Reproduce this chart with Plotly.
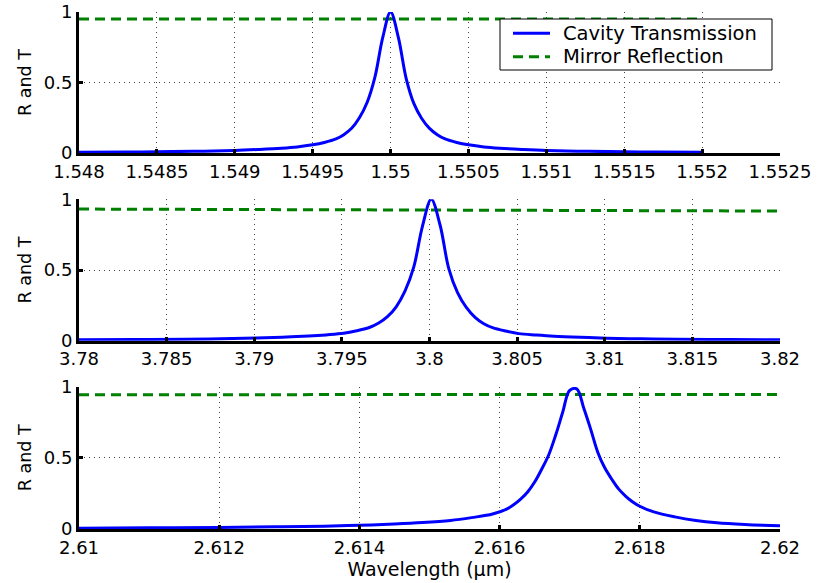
import plotly.graph_objects as go

# ---- Resonance near 1.55 um ----
wl_1 = [1.548, 1.5483, 1.5486, 1.5488, 1.549, 1.54915, 1.5493, 1.5494, 1.5495,
        1.549575, 1.54965, 1.5497, 1.54975, 1.5498, 1.54985, 1.5499, 1.54995,
        1.55,
        1.55005, 1.5501, 1.55015, 1.5502, 1.55025, 1.5503, 1.55035, 1.550425,
        1.5505, 1.5506, 1.5507, 1.55085, 1.551, 1.5512, 1.5514, 1.5517, 1.552]
t_1 = [0.005, 0.007, 0.010, 0.013, 0.018, 0.025, 0.034, 0.043, 0.058,
       0.075, 0.10, 0.13, 0.175, 0.25, 0.36, 0.54, 0.82,
       1.0,
       0.82, 0.53, 0.35, 0.245, 0.175, 0.13, 0.10, 0.075,
       0.058, 0.043, 0.034, 0.025, 0.018, 0.013, 0.010, 0.007, 0.005]
r_wl_1 = [1.548, 1.550, 1.552]
r_1 = [0.951, 0.950, 0.950]
xtick_1 = [1.548, 1.5485, 1.549, 1.5495, 1.55, 1.5505, 1.551, 1.5515, 1.552, 1.5525]
xlab_1 = ["1.548", "1.5485", "1.549", "1.5495", "1.55", "1.5505", "1.551",
          "1.5515", "1.552", "1.5525"]

# ---- Resonance near 3.8 um ----
wl_2 = [3.78, 3.7831, 3.7861, 3.7881, 3.7901, 3.7916, 3.7931, 3.7941, 3.7951,
        3.79585, 3.7966, 3.7971, 3.7976, 3.7981, 3.7986, 3.7991, 3.7996,
        3.8001,
        3.8006, 3.8011, 3.8016, 3.8021, 3.8026, 3.8031, 3.8036, 3.80435,
        3.8051, 3.8061, 3.8071, 3.8086, 3.8101, 3.8121, 3.8141, 3.8171, 3.82]
t_2 = [0.006, 0.008, 0.011, 0.014, 0.019, 0.025, 0.033, 0.041, 0.052,
       0.07, 0.095, 0.125, 0.17, 0.24, 0.35, 0.52, 0.81,
       1.0,
       0.82, 0.51, 0.34, 0.235, 0.165, 0.12, 0.092, 0.068,
       0.05, 0.04, 0.032, 0.024, 0.018, 0.013, 0.010, 0.008, 0.006]
r_wl_2 = [3.78, 3.80, 3.82]
r_2 = [0.931, 0.925, 0.917]
xtick_2 = [3.78, 3.785, 3.79, 3.795, 3.8, 3.805, 3.81, 3.815, 3.82]
xlab_2 = ["3.78", "3.785", "3.79", "3.795", "3.8", "3.805", "3.81", "3.815", "3.82"]

# ---- Resonance near 2.617 um ----
wl_3 = [2.61, 2.611, 2.612, 2.6128, 2.6135, 2.614, 2.6145, 2.6149, 2.6153,
        2.6156, 2.6159, 2.6161, 2.6162, 2.6163, 2.6164, 2.6165, 2.6166,
        2.6167, 2.6168, 2.6169,
        2.617, 2.6171, 2.6172, 2.6173, 2.6174, 2.6175, 2.6176, 2.6177,
        2.6178, 2.6179, 2.618, 2.6182, 2.6185, 2.6188, 2.6191, 2.6195, 2.62]
t_3 = [0.006, 0.008, 0.011, 0.015, 0.02, 0.026, 0.035, 0.045, 0.06,
       0.08, 0.105, 0.14, 0.17, 0.21, 0.26, 0.33, 0.42,
       0.52, 0.66, 0.82,
       0.975, 0.985, 0.85, 0.70, 0.54, 0.43, 0.35, 0.28,
       0.23, 0.19, 0.16, 0.12, 0.085, 0.06, 0.044, 0.032, 0.022]
r_wl_3 = [2.61, 2.615, 2.62]
r_3 = [0.944, 0.944, 0.945]
xtick_3 = [2.61, 2.612, 2.614, 2.616, 2.618, 2.62]
xlab_3 = ["2.61", "2.612", "2.614", "2.616", "2.618", "2.62"]

ytick = [0, 0.5, 1]
ylab = ["0", "0.5", "1"]

legend_names = ["Cavity Transmission", "Mirror Reflection"]

BLUE = "#0000ff"
GREEN = "#008000"
FONT = "DejaVu Sans, Verdana, sans-serif"
GREEN_DASH = "10px,6px"

W, H = 817, 583
x_dom = [79 / W, 780 / W]
y_doms = [[1 - 153 / H, 1 - 12 / H],
          [1 - 340.7 / H, 1 - 199.3 / H],
          [1 - 529 / H, 1 - 386.7 / H]]

panels = [(wl_1, t_1, r_wl_1, r_1, xtick_1, xlab_1),
          (wl_2, t_2, r_wl_2, r_2, xtick_2, xlab_2),
          (wl_3, t_3, r_wl_3, r_3, xtick_3, xlab_3)]

fig = go.Figure()
layout = {}
for i, (wl, t, rwl, r, xt, xl) in enumerate(panels):
    n = "" if i == 0 else str(i + 1)
    xa, ya = "x" + n, "y" + n
    fig.add_trace(go.Scatter(x=rwl, y=r, mode="lines", name=legend_names[1],
                             line=dict(color=GREEN, width=3, dash=GREEN_DASH),
                             xaxis=xa, yaxis=ya, showlegend=False))
    fig.add_trace(go.Scatter(x=wl, y=t, mode="lines", name=legend_names[0],
                             line=dict(color=BLUE, width=3, shape="spline", smoothing=1.0),
                             xaxis=xa, yaxis=ya, showlegend=False))
    common = dict(showline=True, linecolor="black", linewidth=3, mirror=False,
                  ticks="inside", ticklen=4, tickwidth=3, tickcolor="black",
                  showgrid=True, gridcolor="#444444", gridwidth=1, griddash="1px,4px",
                  zeroline=False, automargin=False,
                  tickfont=dict(family=FONT, size=18, color="black"))
    layout["xaxis" + n] = dict(domain=x_dom, anchor=ya, range=[xt[0], xt[-1]],
                               tickmode="array", tickvals=xt, ticktext=xl, **common)
    layout["yaxis" + n] = dict(domain=y_doms[i], anchor=xa, range=[0, 1],
                               tickmode="array", tickvals=ytick, ticktext=ylab,
                               title=dict(text="R and T", standoff=8,
                                          font=dict(family=FONT, size=17.5, color="black")),
                               **common)

layout["xaxis3"]["title"] = dict(text="Wavelength (\u00b5m)", standoff=4,
                                 font=dict(family=FONT, size=19, color="black"))

# Legend box in the top panel (drawn as shapes + text, above the curves)
def px(x):
    return x / W

def py(y):
    return 1 - y / H

shapes = [
    dict(type="rect", xref="paper", yref="paper",
         x0=px(500), x1=px(772), y0=py(70), y1=py(19),
         line=dict(color="black", width=1), fillcolor="white", layer="above"),
    dict(type="line", xref="paper", yref="paper",
         x0=px(513), x1=px(550), y0=py(33.3), y1=py(33.3),
         line=dict(color=BLUE, width=3)),
    dict(type="line", xref="paper", yref="paper",
         x0=px(513), x1=px(550), y0=py(56.7), y1=py(56.7),
         line=dict(color=GREEN, width=3, dash=GREEN_DASH)),
]
annotations = [
    dict(text=legend_names[0], xref="paper", yref="paper", x=px(561), y=py(33.3),
         xanchor="left", yanchor="middle", showarrow=False,
         font=dict(family=FONT, size=19.5, color="black")),
    dict(text=legend_names[1], xref="paper", yref="paper", x=px(561), y=py(56.7),
         xanchor="left", yanchor="middle", showarrow=False,
         font=dict(family=FONT, size=19.5, color="black")),
]

fig.update_layout(
    width=W, height=H,
    margin=dict(l=0, r=0, t=0, b=0),
    paper_bgcolor="white", plot_bgcolor="white",
    showlegend=False,
    shapes=shapes,
    annotations=annotations,
    **layout,
)

fig.write_html("out.html")
